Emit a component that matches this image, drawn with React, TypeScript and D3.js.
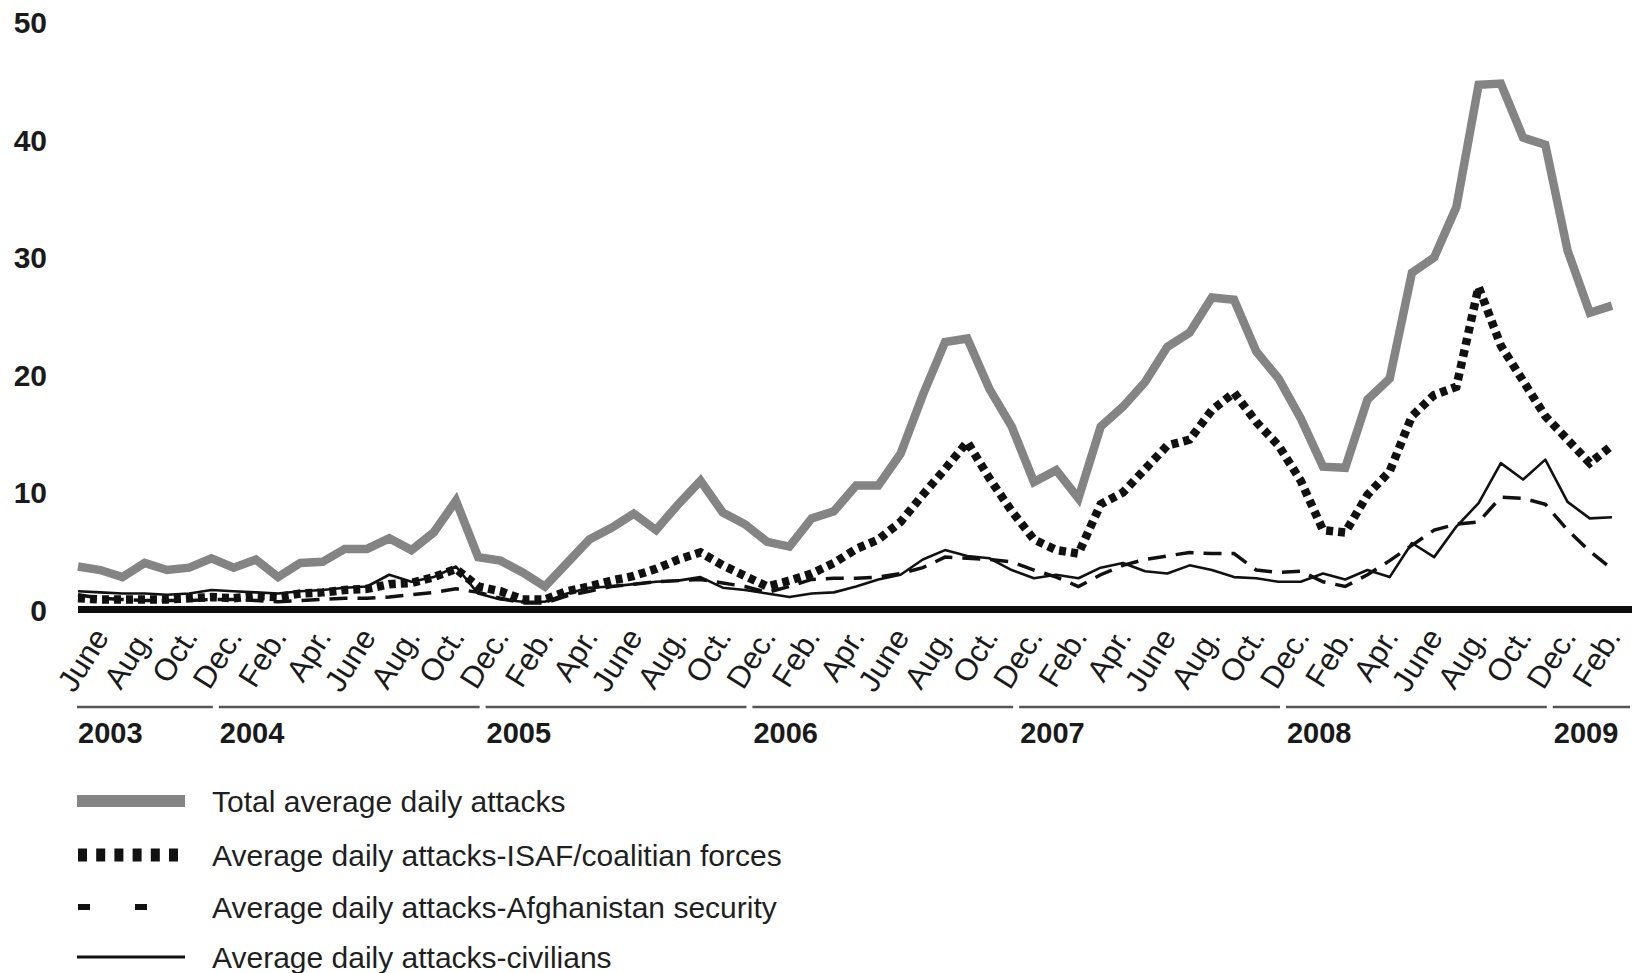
import React from "react";
import * as d3 from "d3";

// Monthly series, June 2003 (index 0) through March 2009 (index 69)
const total = [
  3.7, 3.4, 2.8, 4.0, 3.4, 3.6, 4.4, 3.6, 4.3, 2.8, 4.0, 4.1, 5.2, 5.2, 6.1, 5.1, 6.6, 9.3, 4.5, 4.2,
  3.2, 2.0, 4.0, 6.0, 7.0, 8.2, 6.8, 9.0, 11.0, 8.3, 7.3, 5.8, 5.4, 7.8, 8.4, 10.6, 10.6, 13.3, 18.3, 22.8,
  23.1, 18.8, 15.6, 10.9, 11.9, 9.5, 15.6, 17.3, 19.4, 22.4, 23.6, 26.6, 26.4, 22.0, 19.7, 16.3, 12.2, 12.1, 17.9, 19.7,
  28.7, 30.0, 34.3, 44.7, 44.8, 40.2, 39.6, 30.6, 25.3, 25.9,
];
const isaf = [
  1.0, 0.9, 0.9, 0.9, 0.9, 1.0, 1.1, 1.0, 1.2, 1.1, 1.4, 1.5, 1.7, 1.8, 2.2, 2.3, 2.8, 3.5, 2.0, 1.6,
  0.9, 0.9, 1.6, 2.0, 2.5, 2.9, 3.5, 4.3, 4.9, 3.8, 2.9, 2.0, 2.5, 3.1, 4.0, 5.2, 6.0, 7.5, 9.8, 12.0,
  14.3, 11.2, 8.4, 6.0, 5.1, 4.8, 9.0, 10.0, 12.0, 14.0, 14.5, 17.0, 18.5, 16.0, 14.0, 11.0, 6.8, 6.6, 9.8, 11.8,
  16.5, 18.3, 19.0, 27.5, 22.5, 19.5, 16.5, 14.5, 12.5, 14.0,
];
const afghanSecurity = [
  1.3, 1.0, 0.9, 0.8, 0.8, 0.8, 0.9, 0.9, 0.8, 0.7, 0.8, 0.9, 1.0, 1.0, 1.1, 1.3, 1.5, 1.8, 1.5, 1.0,
  0.6, 0.6, 1.2, 1.6, 2.0, 2.2, 2.4, 2.5, 2.6, 2.3, 2.0, 1.5, 2.0, 2.6, 2.7, 2.7, 2.8, 3.1, 3.6, 4.5,
  4.4, 4.3, 4.1, 3.4, 2.8, 2.0, 3.0, 3.8, 4.3, 4.6, 4.9, 4.8, 4.8, 3.4, 3.2, 3.3, 2.4, 2.0, 3.0, 4.2,
  5.5, 6.8, 7.3, 7.5, 9.6, 9.5, 9.0, 6.8, 5.0, 3.5,
];
const civilians = [
  1.6, 1.5, 1.4, 1.4, 1.3, 1.4, 1.7, 1.6, 1.5, 1.4, 1.6, 1.7, 1.9, 2.0, 3.0, 2.4, 2.8, 3.7, 1.4, 0.9,
  0.7, 0.7, 1.4, 1.9, 2.0, 2.2, 2.4, 2.5, 2.8, 1.9, 1.7, 1.4, 1.1, 1.4, 1.5, 2.0, 2.6, 3.0, 4.3, 5.1,
  4.6, 4.4, 3.4, 2.7, 3.0, 2.7, 3.6, 4.0, 3.3, 3.1, 3.8, 3.4, 2.8, 2.7, 2.4, 2.4, 3.1, 2.6, 3.4, 2.8,
  5.7, 4.5, 7.1, 9.1, 12.5, 11.1, 12.8, 9.2, 7.8, 7.9,
];

// Tick labels every second month, June 2003 .. Feb. 2009
const tickLabels = [
  "June", "Aug.", "Oct.", "Dec.",
  "Feb.", "Apr.", "June", "Aug.", "Oct.", "Dec.",
  "Feb.", "Apr.", "June", "Aug.", "Oct.", "Dec.",
  "Feb.", "Apr.", "June", "Aug.", "Oct.", "Dec.",
  "Feb.", "Apr.", "June", "Aug.", "Oct.", "Dec.",
  "Feb.", "Apr.", "June", "Aug.", "Oct.", "Dec.",
  "Feb.",
];
const years = ["2003", "2004", "2005", "2006", "2007", "2008", "2009"];
// month index of the December that closes each year
const decemberIndex = [6, 18, 30, 42, 54, 66];
const yTicks = [0, 10, 20, 30, 40, 50];

const legendLabels = [
  "Total average daily attacks",
  "Average daily attacks-ISAF/coalitian forces",
  "Average daily attacks-Afghanistan security",
  "Average daily attacks-civilians",
];

const FONT = "'Liberation Sans', Arial, Helvetica, sans-serif";

export default function App() {
  const x = d3.scaleLinear().domain([0, total.length - 1]).range([78, 1612]);
  const y = d3.scaleLinear().domain([0, 50]).range([610, 22.5]);
  const line = d3
    .line<number>()
    .x((_, i) => x(i))
    .y((d) => y(d));

  const segs = years.map((yr, k) => {
    const start = k === 0 ? x(0) - 1 : x(decemberIndex[k - 1] + 0.2) + 3;
    const end = k === years.length - 1 ? 1630 : x(decemberIndex[k] + 0.2) - 3;
    return { yr, start, end };
  });

  const legendY = [801, 855, 907, 957];

  return (
    <svg
      width={1638}
      height={973}
      style={{ position: "absolute", left: 0, top: 0, background: "#fff" }}
      fontFamily={FONT}
    >
      <rect x={0} y={0} width={1638} height={973} fill="#fff" />

      {/* y tick labels */}
      {yTicks.map((t) => (
        <text
          key={t}
          x={47}
          y={y(t)}
          textAnchor="end"
          dominantBaseline="central"
          fontSize={30}
          fontWeight="bold"
          fill="#1a1a1a"
        >
          {t}
        </text>
      ))}

      {/* series */}
      <path d={line(total) || ""} fill="none" stroke="#848484" strokeWidth={8.5} strokeLinejoin="miter" strokeMiterlimit={3} />
      <path d={line(isaf) || ""} fill="none" stroke="#111" strokeWidth={8.5} strokeDasharray="7,5" />
      <path d={line(afghanSecurity) || ""} fill="none" stroke="#111" strokeWidth={3.5} strokeDasharray="18,10" />
      <path d={line(civilians) || ""} fill="none" stroke="#111" strokeWidth={2.6} strokeLinejoin="round" />

      {/* zero baseline */}
      <line x1={78} x2={1632} y1={609.5} y2={609.5} stroke="#0d0d0d" strokeWidth={7} />

      {/* month labels */}
      {tickLabels.map((lab, k) => (
        <text
          key={k}
          transform={`translate(${x(2 * k) + 32},637) rotate(-58)`}
          textAnchor="end"
          fontSize={31}
          fill="#1a1a1a"
        >
          {lab}
        </text>
      ))}

      {/* year rules and labels */}
      {segs.map((s) => (
        <g key={s.yr}>
          <line x1={s.start} x2={s.end} y1={707} y2={707} stroke="#555" strokeWidth={2.5} />
          <text x={s.start + 1} y={743} fontSize={29} fontWeight="bold" fill="#1a1a1a">
            {s.yr}
          </text>
        </g>
      ))}

      {/* legend */}
      <line x1={77} x2={185} y1={legendY[0]} y2={legendY[0]} stroke="#848484" strokeWidth={12} />
      <line x1={78} x2={178} y1={legendY[1]} y2={legendY[1]} stroke="#111" strokeWidth={13} strokeDasharray="9,9.2" />
      <line x1={78} x2={150} y1={legendY[2]} y2={legendY[2]} stroke="#111" strokeWidth={6} strokeDasharray="12,45" />
      <line x1={77} x2={185} y1={legendY[3]} y2={legendY[3]} stroke="#111" strokeWidth={3} />
      {legendLabels.map((lab, k) => (
        <text key={lab} x={212} y={legendY[k] + 11} fontSize={30} fill="#1f1f1f">
          {lab}
        </text>
      ))}
    </svg>
  );
}
